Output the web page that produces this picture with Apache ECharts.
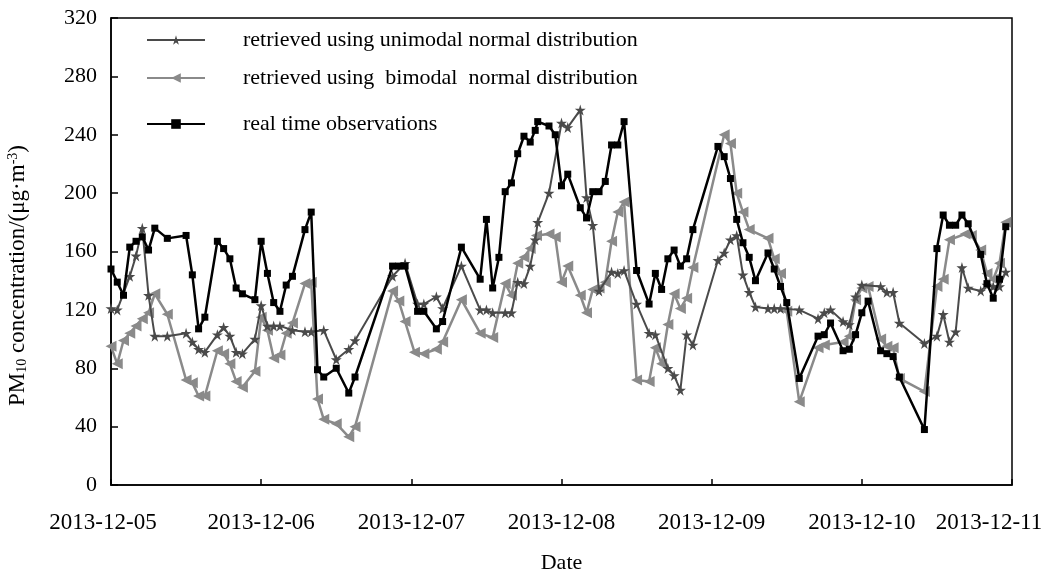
<!DOCTYPE html>
<html>
<head>
<meta charset="utf-8">
<script src="https://cdn.jsdelivr.net/npm/echarts@6/dist/echarts.min.js"></script>
<style>html,body{margin:0;padding:0;background:#fff}#c{width:1057px;height:572px}</style>
</head>
<body>
<div id="c"></div>
<script>
// x = hours since 2013-12-05 00:00, y = PM10 concentration (µg·m-3)
const dateLabels = ['2013-12-05','2013-12-06','2013-12-07','2013-12-08','2013-12-09','2013-12-10','2013-12-11'];
const yTicks = [0,40,80,120,160,200,240,280,320];

const unimodal = [
 [0,121],[1,120],[3,143],[4,157],[5,176],[6,130],[7,102],[9,102],[12,104],[13,98],[14,93],[15,91],
 [17,103],[18,108],[19,102],[20,91],[21,90],[23,100],[24,123],[25,109],[26,109],[27,109],[29,106],
 [31,105],[32,105],[34,106],[36,86],[38,93],[39,99],[45,143],[47,152],[49,124],[50,124],[52,129],
 [53,121],[56,150],[59,120],[60,120],[61,118],[63,118],[64,118],[65,139],[66,138],[67,150],[67.8,168],
 [68.2,180],[70,200],[72,248],[73,245],[75,257],[76,197],[77,178],[78,133],[80,146],[81,145],[82,147],
 [84,124],[86,104],[87,103],[89,80],[90,75],[91,65],[92,103],[93,96],[97,154],[98,159],[99,168],
 [100,171],[101,144],[102,132],[103,122],[105,121],[106,121],[107,121],[110,120],[113,114],[114,118],
 [115,120],[117,112],[118,110],[119,129],[120,137],[123,136],[124,132],[125,132],[126,111],[130,97],
 [132,102],[133,117],[134,98],[135,105],[136,149],[137,135],[139,133],[140,137],[141,136],[142,136],[143,146]
];
const bimodal = [
 [0,95],[1,83],[2,99],[3,104],[4,109],[5,114],[6,118],[7,131],[9,117],[12,72],[13,70],[14,61],[15,61],
 [17,92],[18,90],[19,83],[20,71],[21,67],[23,78],[24,115],[25,106],[26,87],[27,89],[28,104],[29,111],
 [31,138],[32,139],[33,59],[34,45],[36,42],[38,33],[39,40],[45,133],[46,126],[47,112],[48.5,91],[50,90],
 [52,93],[53,98],[56,127],[59,104],[61,101],[63,138],[64,130],[65,152],[66,156],[67,162],[68,171],
 [70,172],[71,170],[72,139],[73,150],[75,130],[76,118],[77,134],[78,135],[79,139],[80,167],[81,187],
 [82,194],[84,72],[86,71],[87,94],[88,83],[89,110],[90,131],[91,121],[92,128],[93,149],[98,240],
 [99,234],[100,200],[101,187],[102,175],[105,169],[106,155],[107,145],[108,119],[110,57],[113,94],
 [114,96],[117,98],[118,102],[119,127],[120,135],[121,136],[123,100],[124,95],[125,94],[126,73],
 [130,64],[132,136],[133,141],[134,168],[136.5,172],[137.5,171],[139,161],[140,145],[141,141],[142,152],[143,180]
];
const observed = [
 [0,148],[1,139],[2,130],[3,163],[4,167],[5,170],[6,161],[7,176],[9,169],[12,171],[13,144],[14,107],
 [15,115],[17,167],[18,162],[19,155],[20,135],[21,131],[23,127],[24,167],[25,145],[26,125],[27,119],
 [28,137],[29,143],[31,175],[32,187],[33,79],[34,74],[36,80],[38,63],[39,74],[45,150],[46,150],[47,150],
 [49,119],[50,119],[52,107],[53,112],[56,163],[59,141],[60,182],[61,135],[62,156],[63,201],[64,207],
 [65,227],[66,239],[67,235],[67.8,243],[68.2,249],[70,246],[71,240],[72,205],[73,213],[75,190],[76,183],
 [77,201],[78,201],[79,208],[80,233],[81,233],[82,249],[84,147],[86,124],[87,145],[88,134],[89,155],
 [90,161],[91,150],[92,155],[93,175],[97,232],[98,225],[99,210],[100,182],[101,166],[102,156],[103,140],
 [105,159],[106,148],[107,136],[108,125],[110,73],[113,102],[114,103],[115,111],[117,92],[118,93],
 [119,103],[120,118],[121,126],[123,92],[124,90],[125,88],[126,74],[130,38],[132,162],[133,185],
 [134,178],[135,178],[136,185],[137,179],[139,158],[140,138],[141,128],[142,141],[143,177]
];
const names = ['retrieved using unimodal normal distribution','retrieved using  bimodal  normal distribution','real time observations'];

const FONT = 'Liberation Serif';
const STAR = 'path://M50,0 L61,35 L98,35 L68,57 L79,91 L50,70 L21,91 L32,57 L2,35 L39,35 Z';
const chart = echarts.init(document.getElementById('c'));
function lg(name, top){
  return {data:[name], left:141, top:top, orient:'vertical', itemWidth:58, itemHeight:12,
    textStyle:{fontFamily:FONT, fontSize:22, color:'#000', padding:[0,0,0,33]}};
}
const lblBase = {fontFamily:FONT, fontSize:23, color:'#000'};
chart.setOption({
  animation:false,
  backgroundColor:'#fff',
  textStyle:{fontFamily:FONT},
  grid:{left:111, right:45, top:18, bottom:87, outerBoundsMode:'none', containLabel:false,
    show:true, borderColor:'#000', borderWidth:1.5, backgroundColor:'transparent'},
  legend:[lg(names[0],24), lg(names[1],62), lg(names[2],108)],
  xAxis:{type:'value', min:0, max:144, interval:24,
    name:'Date', nameLocation:'middle', nameGap:67, nameTextStyle:{fontFamily:FONT,fontSize:22,color:'#000'},
    axisLine:{lineStyle:{color:'#000',width:1.5}}, axisTick:{inside:true,length:6,lineStyle:{color:'#000',width:1.5}},
    axisLabel:{fontFamily:FONT,fontSize:23,color:'#000',margin:26,
      formatter:v=>{const i=Math.round(v/24); const t=dateLabels[i];
        if(i===0) return '{first|'+t+'}';
        if(i===dateLabels.length-1) return '{last|'+t+'}';
        return t;},
      rich:{first:Object.assign({padding:[0,16,0,0]},lblBase), last:Object.assign({padding:[0,46,0,0]},lblBase)}},
    splitLine:{show:false}},
  yAxis:{type:'value', min:yTicks[0], max:yTicks[yTicks.length-1], interval:40,
    name:'PM{sub|10} concentration/(μg·m{sup|-3})', nameLocation:'middle', nameGap:82,
    nameTextStyle:{fontFamily:FONT,fontSize:23,color:'#000', padding:[0,48,0,0],
      rich:{sub:{fontFamily:FONT,fontSize:14,color:'#000',verticalAlign:'bottom',padding:[8,0,0,0]},
            sup:{fontFamily:FONT,fontSize:14,color:'#000',verticalAlign:'top',padding:[0,0,8,0]}}},
    axisLine:{show:true,lineStyle:{color:'#000',width:1.5}}, axisTick:{show:true,inside:true,length:7,lineStyle:{color:'#000',width:1.5}},
    axisLabel:{fontFamily:FONT,fontSize:22,color:'#000',margin:14},
    splitLine:{show:false}},
  series:[
    {name:names[1], type:'line', data:bimodal, symbol:'triangle', symbolRotate:90, symbolSize:11,
     itemStyle:{color:'#8a8a8a'}, lineStyle:{color:'#8a8a8a',width:2.5}, z:2},
    {name:names[0], type:'line', data:unimodal, symbol:STAR, symbolSize:11,
     itemStyle:{color:'#4a4a4a'}, lineStyle:{color:'#4a4a4a',width:2}, z:3},
    {name:names[2], type:'line', data:observed, symbol:'rect', symbolSize:7,
     itemStyle:{color:'#000'}, lineStyle:{color:'#000',width:2.5}, z:4}
  ]
});
</script>
</body>
</html>
